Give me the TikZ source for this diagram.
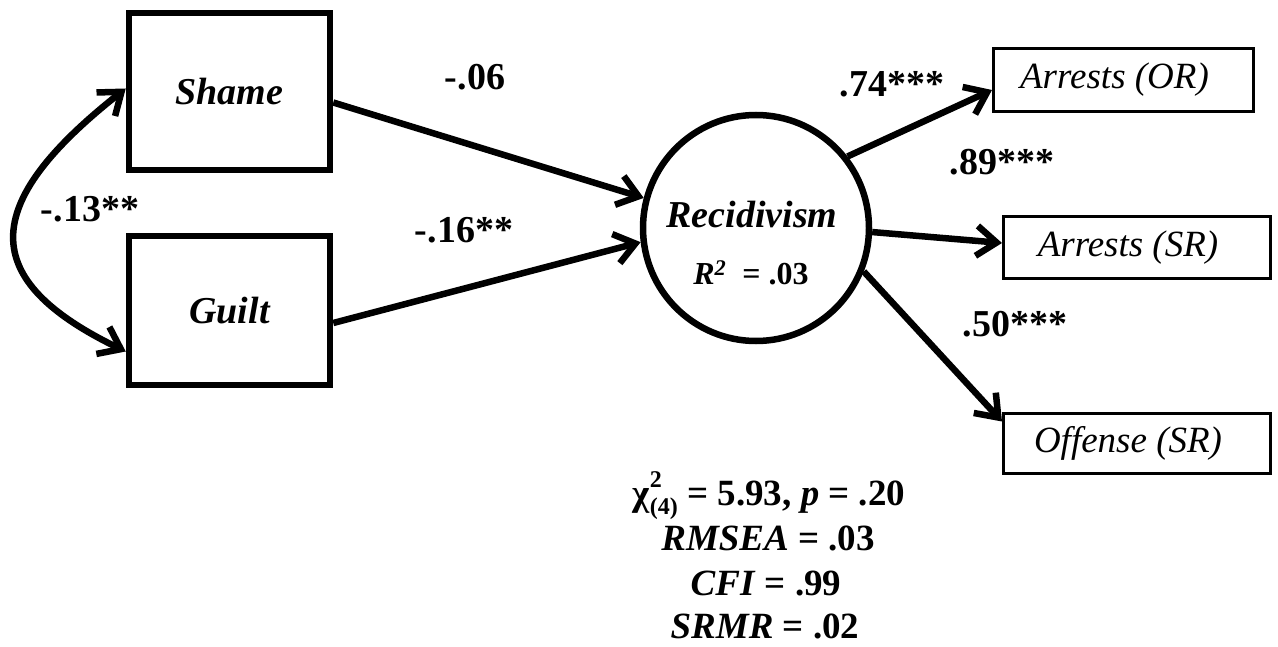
\documentclass[tikz,border=0pt]{standalone}
\usepackage{fontspec}
\setmainfont{Liberation Serif}
\usetikzlibrary{arrows.meta}
\begin{document}
\begin{tikzpicture}[x=1pt,y=-1pt,
  thickbox/.style={draw, line width=6.5pt, rectangle, inner sep=0pt, font=\fontsize{38}{40}\selectfont\bfseries\itshape},
  thinbox/.style={draw, line width=3pt, rectangle, inner sep=0pt, font=\fontsize{37}{40}\selectfont\itshape},
  lat/.style={draw, circle, line width=6.5pt, inner sep=0pt, minimum size=226pt},
  arr/.style={line width=6.5pt, -{Straight Barb[length=20pt, width=30pt]}},
  dbl/.style={line width=6.5pt, {Straight Barb[length=20pt, width=30pt]}-{Straight Barb[length=20pt, width=30pt]}},
  lbl/.style={inner sep=0pt, anchor=base, font=\fontsize{38}{40}\selectfont\bfseries},
  stat/.style={inner sep=0pt, anchor=base, font=\fontsize{37}{40}\selectfont\bfseries}]
\useasboundingbox (0,0) rectangle (1278,647);

% nodes
\node[thickbox, minimum width=201pt, minimum height=157pt] (shame) at (229.5,91.5) {Shame};
\node[thickbox, minimum width=201pt, minimum height=149pt] (guilt) at (229.5,310.5) {Guilt};
\node[lat] (rec) at (756,228) {};
\node[inner sep=0pt, anchor=base, font=\fontsize{38}{40}\selectfont\bfseries\itshape] (rectxt) at (752,228) {Recidivism};
\node[inner sep=0pt, anchor=base, font=\fontsize{32}{36}\selectfont\bfseries] (rsq) at (751,285) {\textit{R}\textsuperscript{\textit{2}}\ \ = .03};
\node[thinbox, minimum width=260pt, minimum height=63pt] (aor) at (1123.5,80) {\hspace{-18pt}Arrests (OR)};
\node[thinbox, minimum width=267pt, minimum height=62pt] (asr) at (1137,247.5) {\hspace{-18pt}Arrests (SR)};
\node[thinbox, minimum width=267pt, minimum height=60pt] (osr) at (1137,443.5) {\hspace{-18pt}Offense (SR)};

% paths
\draw[arr] ([yshift=-11pt]shame.east) -- (rec.165);
\draw[arr] ([yshift=-12.5pt]guilt.east) -- (rec.187);
\draw[arr] (rec.38) -- ([yshift=-10pt]aor.west);
\draw[arr] (rec.-2.5) -- ([yshift=4.5pt]asr.west);
\draw[arr] (rec.-22.4) -- ([yshift=22pt]osr.west);
\draw[dbl] ([yshift=3pt]shame.west) .. controls (-22,205) and (-22,280) .. ([yshift=-41pt]guilt.west);

% coefficient labels
\node[lbl] (l06) at (475,90) {-.06};
\node[lbl] (l16) at (464,243) {-.16**};
\node[lbl] (l13) at (90,222) {-.13**};
\node[lbl] (l74) at (892,97) {.74***};
\node[lbl] (l89) at (1002,175) {.89***};
\node[lbl] (l50) at (1015,337) {.50***};

% fit statistics
\node[stat] (chi) at (769,505) {χ\rlap{\raisebox{1.05ex}{\fontsize{24}{24}\selectfont 2}}\raisebox{-0.55ex}{\fontsize{24}{24}\selectfont (4)} = 5.93, \textit{p} = .20};
\node[stat] (rmsea) at (768,550) {\textit{RMSEA} = .03};
\node[stat] (cfi) at (766,595) {\textit{CFI} = .99};
\node[stat] (srmr) at (765,638) {\textit{SRMR} = .02};
\end{tikzpicture}
\end{document}
